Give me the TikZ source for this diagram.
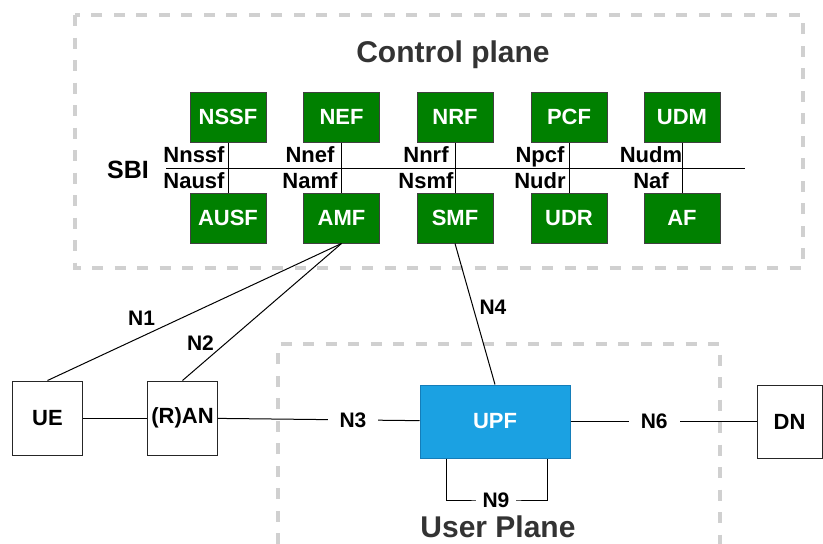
\documentclass[tikz,border=0pt]{standalone}
\usepackage{fontspec}
\setmainfont{Liberation Sans}
\usetikzlibrary{positioning}
\definecolor{nfgreen}{RGB}{0,128,0}
\definecolor{upfblue}{RGB}{27,161,226}
\definecolor{upfedge}{RGB}{20,125,185}
\definecolor{planegray}{RGB}{208,208,208}
\definecolor{titlegray}{RGB}{51,51,51}

\begin{document}
\begin{tikzpicture}[x=1pt,y=-1pt,line width=1pt,
  nf/.style={draw=black!75,fill=nfgreen,text=white,minimum width=76pt,minimum height=50pt,inner sep=0pt,font=\fontsize{22}{26}\selectfont\bfseries},
  ep/.style={draw=black!85,fill=white,minimum width=70pt,minimum height=74pt,inner sep=0pt,font=\fontsize{22}{26}\selectfont\bfseries},
  plane/.style={draw=planegray,line width=3.5pt,dash pattern=on 11pt off 11.5pt},
  ifc/.style={font=\fontsize{22}{26}\selectfont\bfseries,inner sep=0pt,anchor=base},
  ref/.style={font=\fontsize{21}{25}\selectfont\bfseries,inner sep=3pt},
  cut/.style={ref,fill=white,inner xsep=12pt},
  title/.style={font=\fontsize{30}{36}\selectfont\bfseries,text=titlegray,inner sep=0pt,anchor=base}]
\useasboundingbox (0,0) rectangle (823,544);

\draw[plane] (75,15) rectangle (803,268);
\draw[plane] (278,544) -- (278,344) -- (720,344) -- (720,544);
\node[title] (cptitle) at (453,62) {Control plane};
\node[title] (uptitle) at (498,537) {User Plane};

\node[nf] (nssf) at (228,117) {NSSF};
\node[nf] (nef) at (341.5,117) {NEF};
\node[nf] (nrf) at (455,117) {NRF};
\node[nf] (pcf) at (569,117) {PCF};
\node[nf] (udm) at (682,117) {UDM};
\node[nf] (ausf) at (228,218) {AUSF};
\node[nf] (amf) at (341.5,218) {AMF};
\node[nf] (smf) at (455,218) {SMF};
\node[nf] (udr) at (569,218) {UDR};
\node[nf] (af) at (682,218) {AF};

\coordinate (busW) at (166,168);
\coordinate (busE) at (745,168);
\draw (busW) -- (busE);
\node[font=\fontsize{25}{30}\selectfont\bfseries] (sbi) at (128,170) {SBI};

\draw (nssf) -- (ausf);
\draw (nef) -- (amf);
\draw (nrf) -- (smf);
\draw (pcf) -- (udr);
\draw (udm) -- (af);
\node[ifc] (nnssf) at (194,162) {Nnssf};
\node[ifc] (nausf) at (194,188) {Nausf};
\node[ifc] (nnef) at (310,162) {Nnef};
\node[ifc] (namf) at (310,188) {Namf};
\node[ifc] (nnrf) at (426,162) {Nnrf};
\node[ifc] (nsmf) at (426,188) {Nsmf};
\node[ifc] (npcf) at (540,162) {Npcf};
\node[ifc] (nudr) at (540,188) {Nudr};
\node[ifc] (nudm) at (651,162) {Nudm};
\node[ifc] (naf) at (651,188) {Naf};

\node[ep] (ue) at (47.5,418) {UE};
\node[ep] (ran) at (182.5,418) {(R)AN};
\node[ep,minimum width=150pt,minimum height=73pt,fill=upfblue,draw=upfedge,text=white] (upf) at (495,421.5) {UPF};
\node[ep,minimum width=65pt,minimum height=73pt] (dn) at (789.5,421.5) {DN};

\draw (ue.north) -- node[ref,pos=.32,above=8pt] (n1) {N1} (amf.south);
\draw (ran.north) -- node[ref,pos=.27,left=8pt] (n2) {N2} (amf.south);
\draw (smf.south) -- node[ref,pos=.45,right=3pt] (n4) {N4} (upf.north);
\draw (ue) -- (ran);
\draw (ran) -- node[cut,pos=.67] (n3) {N3} (upf);
\draw (upf) -- node[cut,pos=.45] (n6) {N6} (dn);
\coordinate (n9pt) at (496,500);
\draw ([xshift=-49pt]upf.south) |- (n9pt) -| ([xshift=52pt]upf.south);
\node[cut,inner xsep=7pt] (n9) at (n9pt) {N9};
\end{tikzpicture}
\end{document}
